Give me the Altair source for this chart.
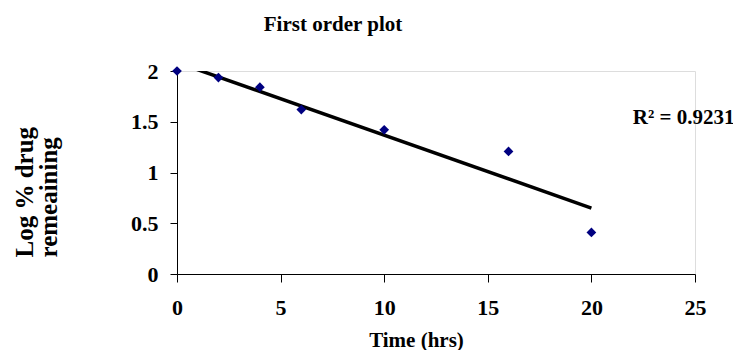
import altair as alt
import pandas as pd

# Data
time_hrs = [0, 2, 4, 6, 10, 16, 20]
log_remaining = [2.0, 1.935, 1.84, 1.62, 1.42, 1.207, 0.41]
r2_label = ["R² = 0.9231"]
r2_pos_x = [24.45]
r2_pos_y = [1.54]
x_ticks = [0, 5, 10, 15, 20, 25]
y_ticks = [0, 0.5, 1, 1.5, 2]

FONT = "Liberation Serif"

df = pd.DataFrame({"x": time_hrs, "y": log_remaining})
df_txt = pd.DataFrame({"x": r2_pos_x, "y": r2_pos_y, "t": r2_label})

xscale = alt.Scale(domain=[0, 25], nice=False, zero=True)
yscale = alt.Scale(domain=[0, 2], nice=False, zero=True)

xaxis = alt.Axis(
    values=x_ticks, grid=False, title="Time (hrs)",
    labelFont=FONT, labelFontSize=22, labelFontWeight="bold", labelColor="black",
    labelPadding=15, tickSize=8, tickColor="black", domainColor="black",
    titleFont=FONT, titleFontSize=21, titleFontWeight="bold", titleColor="black",
    titleX=239, titleY=66, titleBaseline="middle", titleAlign="center",
    labelFlush=False, labelOverlap=False,
)
yaxis = alt.Axis(
    values=y_ticks, grid=False, title=["Log % drug", "remeaining"],
    labelExpr="toString(datum.value)",
    labelFont=FONT, labelFontSize=22, labelFontWeight="bold", labelColor="black",
    labelPadding=12, tickSize=7, tickColor="black", domainColor="black",
    titleFont=FONT, titleFontSize=25, titleFontWeight="bold", titleColor="black",
    titleAngle=270, titleAlign="left", titleBaseline="top",
    titleX=-165, titleY=186, titleLineHeight=24,
    labelFlush=False, labelOverlap=False,
)

base = alt.Chart(df)

line = base.transform_regression("x", "y", extent=[0, 20]).mark_line(
    color="black", strokeWidth=3.5, clip=True
).encode(
    x=alt.X("x:Q", scale=xscale, axis=xaxis),
    y=alt.Y("y:Q", scale=yscale, axis=yaxis),
)

points = base.mark_point(
    shape="diamond", filled=True, color="#000080", size=95, opacity=1
).encode(
    x=alt.X("x:Q", scale=xscale),
    y=alt.Y("y:Q", scale=yscale),
)

text = alt.Chart(df_txt).mark_text(
    font=FONT, fontSize=21, fontWeight="bold", color="black",
    align="center", baseline="middle"
).encode(
    x=alt.X("x:Q", scale=xscale),
    y=alt.Y("y:Q", scale=yscale),
    text="t:N",
)

chart = alt.layer(line, points, text).properties(
    width=518,
    height=203,
    title=alt.TitleParams(
        "First order plot", font=FONT, fontSize=21, fontWeight="bold",
        color="black", anchor="middle", dx=-103, offset=25,
    ),
    autosize=alt.AutoSizeParams(type="none"),
    padding={"left": 169, "top": 63, "right": 38, "bottom": 76},
).configure_view(stroke=None).configure(background="white")

chart.save("out.html", embed_options={"renderer": "svg", "actions": False})
